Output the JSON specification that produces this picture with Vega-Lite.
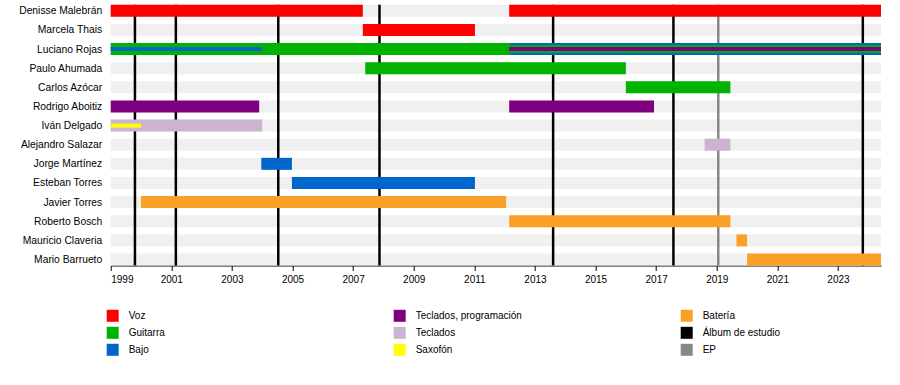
{
  "$schema": "https://vega.github.io/schema/vega-lite/v6.json",
  "width": 770.3,
  "height": 260.7,
  "autosize": {"type": "none"},
  "padding": {"left": 110.7, "top": 4.8, "right": 19, "bottom": 119.5},
  "background": "white",
  "config": {"view": {"stroke": null}, "font": "Liberation Sans"},
  "datasets": {
    "names": [
      {"name": "Denisse Malebrán", "from": 1999, "to": 2024.42},
      {"name": "Marcela Thais", "from": 1999, "to": 2024.42},
      {"name": "Luciano Rojas", "from": 1999, "to": 2024.42},
      {"name": "Paulo Ahumada", "from": 1999, "to": 2024.42},
      {"name": "Carlos Azócar", "from": 1999, "to": 2024.42},
      {"name": "Rodrigo Aboitiz", "from": 1999, "to": 2024.42},
      {"name": "Iván Delgado", "from": 1999, "to": 2024.42},
      {"name": "Alejandro Salazar", "from": 1999, "to": 2024.42},
      {"name": "Jorge Martínez", "from": 1999, "to": 2024.42},
      {"name": "Esteban Torres", "from": 1999, "to": 2024.42},
      {"name": "Javier Torres", "from": 1999, "to": 2024.42},
      {"name": "Roberto Bosch", "from": 1999, "to": 2024.42},
      {"name": "Mauricio Claveria", "from": 1999, "to": 2024.42},
      {"name": "Mario Barrueto", "from": 1999, "to": 2024.42}
    ],
    "events": [
      {"year": 1999.8, "role": "Álbum de estudio"},
      {"year": 2001.15, "role": "Álbum de estudio"},
      {"year": 2004.53, "role": "Álbum de estudio"},
      {"year": 2007.87, "role": "Álbum de estudio"},
      {"year": 2013.6, "role": "Álbum de estudio"},
      {"year": 2017.57, "role": "Álbum de estudio"},
      {"year": 2023.82, "role": "Álbum de estudio"},
      {"year": 2019.05, "role": "EP"}
    ],
    "spans": [
      {"name": "Denisse Malebrán", "role": "Voz", "from": 1999, "to": 2007.32, "part": "a"},
      {"name": "Denisse Malebrán", "role": "Voz", "from": 2012.15, "to": 2024.42, "part": "a"},
      {"name": "Marcela Thais", "role": "Voz", "from": 2007.32, "to": 2011.02, "part": "a"},
      {"name": "Luciano Rojas", "role": "Guitarra", "from": 1999, "to": 2012.15, "part": "a"},
      {"name": "Luciano Rojas", "role": "Bajo", "from": 1999, "to": 2004.0, "part": "c"},
      {"name": "Luciano Rojas", "role": "Bajo", "from": 2012.15, "to": 2024.42, "part": "a"},
      {"name": "Luciano Rojas", "role": "Guitarra", "from": 2012.15, "to": 2024.42, "part": "b"},
      {"name": "Luciano Rojas", "role": "Teclados, programación", "from": 2012.15, "to": 2024.42, "part": "c"},
      {"name": "Paulo Ahumada", "role": "Guitarra", "from": 2007.4, "to": 2016.0, "part": "a"},
      {"name": "Carlos Azócar", "role": "Guitarra", "from": 2016.0, "to": 2019.45, "part": "a"},
      {"name": "Rodrigo Aboitiz", "role": "Teclados, programación", "from": 1999, "to": 2003.9, "part": "a"},
      {"name": "Rodrigo Aboitiz", "role": "Teclados, programación", "from": 2012.15, "to": 2016.93, "part": "a"},
      {"name": "Iván Delgado", "role": "Teclados", "from": 1999, "to": 2004.0, "part": "a"},
      {"name": "Iván Delgado", "role": "Saxofón", "from": 1999, "to": 2000.0, "part": "c"},
      {"name": "Alejandro Salazar", "role": "Teclados", "from": 2018.6, "to": 2019.45, "part": "a"},
      {"name": "Jorge Martínez", "role": "Bajo", "from": 2003.97, "to": 2004.98, "part": "a"},
      {"name": "Esteban Torres", "role": "Bajo", "from": 2004.98, "to": 2011.02, "part": "a"},
      {"name": "Javier Torres", "role": "Batería", "from": 2000.0, "to": 2012.05, "part": "a"},
      {"name": "Roberto Bosch", "role": "Batería", "from": 2012.15, "to": 2019.45, "part": "a"},
      {"name": "Mauricio Claveria", "role": "Batería", "from": 2019.65, "to": 2020.0, "part": "a"},
      {"name": "Mario Barrueto", "role": "Batería", "from": 2020.0, "to": 2024.42, "part": "a"}
    ]
  },
  "layer": [
    {
      "data": {"name": "names"},
      "mark": {"type": "bar", "size": 12, "color": "#f0f0f0"},
      "encoding": {
        "y": {
          "field": "name", "type": "nominal", "sort": null,
          "scale": {"type": "point", "padding": 0.314, "domain": ["Denisse Malebrán", "Marcela Thais", "Luciano Rojas", "Paulo Ahumada", "Carlos Azócar", "Rodrigo Aboitiz", "Iván Delgado", "Alejandro Salazar", "Jorge Martínez", "Esteban Torres", "Javier Torres", "Roberto Bosch", "Mauricio Claveria", "Mario Barrueto"]},
          "axis": {"title": null, "domain": false, "ticks": false, "labelPadding": 9, "labelFontSize": 10.3, "labelColor": "black", "labelFont": "Liberation Sans"}
        },
        "x": {
          "field": "from", "type": "quantitative",
          "scale": {"domain": [1999, 2024.42], "nice": false, "zero": false},
          "axis": {
            "title": null, "grid": false,
            "values": [1999, 2000, 2001, 2002, 2003, 2004, 2005, 2006, 2007, 2008, 2009, 2010, 2011, 2012, 2013, 2014, 2015, 2016, 2017, 2018, 2019, 2020, 2021, 2022, 2023, 2024],
            "format": "d",
            "labelExpr": "datum.value % 2 == 1 ? datum.label : ''",
            "labelFontSize": 10, "labelColor": "black", "labelPadding": 4, "labelFont": "Liberation Sans",
            "tickColor": "black", "domainColor": "black", "tickSize": 5,
            "encode": {"ticks": {"update": {"y2": {"signal": "datum.value % 2 == 0 ? 2.5 : 5"}}}}
          }
        },
        "x2": {"field": "to"}
      }
    },
    {
      "data": {"name": "events"},
      "mark": {"type": "rule", "strokeWidth": 2.5},
      "encoding": {
        "x": {"field": "year", "type": "quantitative"},
        "color": {"field": "role", "type": "nominal"}
      }
    },
    {
      "data": {"name": "spans"},
      "transform": [{"filter": "datum.part == 'a'"}],
      "mark": {"type": "bar", "size": 12},
      "encoding": {
        "y": {"field": "name", "type": "nominal"},
        "x": {"field": "from", "type": "quantitative"},
        "x2": {"field": "to"},
        "color": {
          "field": "role", "type": "nominal",
          "scale": {
            "domain": ["Voz", "Guitarra", "Bajo", "Teclados, programación", "Teclados", "Saxofón", "Batería", "Álbum de estudio", "EP"],
            "range": ["#ff0000", "#00b300", "#0066cc", "#7f007f", "#ccb3cf", "#ffff00", "#fba026", "#000000", "#888888"]
          },
          "legend": {
            "title": null, "orient": "none", "legendX": -4, "legendY": 305,
            "columns": 3, "gridAlign": "all", "columnPadding": 158, "rowPadding": 5,
            "symbolType": "square", "symbolSize": 144, "symbolStrokeWidth": 0, "symbolOpacity": 1,
            "labelFontSize": 10, "labelOffset": 10, "labelColor": "black", "labelFont": "Liberation Sans"
          }
        }
      }
    },
    {
      "data": {"name": "spans"},
      "transform": [{"filter": "datum.part == 'b'"}],
      "mark": {"type": "bar", "size": 8},
      "encoding": {
        "y": {"field": "name", "type": "nominal"},
        "x": {"field": "from", "type": "quantitative"},
        "x2": {"field": "to"},
        "color": {"field": "role", "type": "nominal"}
      }
    },
    {
      "data": {"name": "spans"},
      "transform": [{"filter": "datum.part == 'c'"}],
      "mark": {"type": "bar", "size": 4},
      "encoding": {
        "y": {"field": "name", "type": "nominal"},
        "x": {"field": "from", "type": "quantitative"},
        "x2": {"field": "to"},
        "color": {"field": "role", "type": "nominal"}
      }
    }
  ]
}
